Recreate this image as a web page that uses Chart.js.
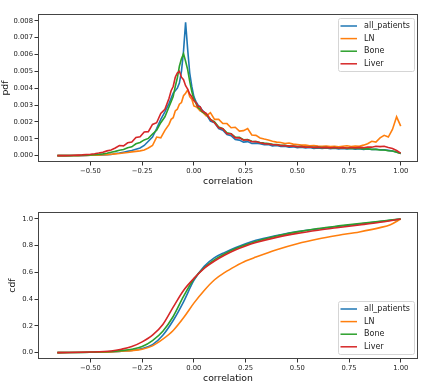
<!DOCTYPE html>
<html>
<head>
<meta charset="utf-8">
<script src="https://cdn.jsdelivr.net/npm/chart.js@4/dist/chart.umd.min.js"></script>
<style>
  body { margin: 0; background: #fff; }
  .box { position: absolute; left: 0; }
</style>
</head>
<body>
<div class="box" style="top:0"><canvas id="pdfChart" width="423" height="200"></canvas></div>
<div class="box" style="top:200px"><canvas id="cdfChart" width="423" height="184"></canvas></div>
<script>
// series names and colours (matplotlib default cycle)
const seriesNames = ['all_patients', 'LN', 'Bone', 'Liver'];
const seriesColors = ['#1f77b4', '#ff7f0e', '#2ca02c', '#d62728'];

// x ticks shared by both plots
const xTicks = [-0.5, -0.25, 0, 0.25, 0.5, 0.75, 1.0];
const xTickLabels = ['\u22120.50', '\u22120.25', '0.00', '0.25', '0.50', '0.75', '1.00'];

const pdfTicks = [0, 0.001, 0.002, 0.003, 0.004, 0.005, 0.006, 0.007, 0.008];
const pdfTickLabels = ['0.000', '0.001', '0.002', '0.003', '0.004', '0.005', '0.006', '0.007', '0.008'];
const cdfTicks = [0, 0.2, 0.4, 0.6, 0.8, 1.0];
const cdfTickLabels = ['0.0', '0.2', '0.4', '0.6', '0.8', '1.0'];

// pdf (top plot)
const pdfX = [-0.66, -0.64, -0.62, -0.60, -0.58, -0.56, -0.54, -0.52, -0.50, -0.48, -0.46, -0.44, -0.42, -0.40,
    -0.38, -0.36, -0.34, -0.32, -0.30, -0.28, -0.26, -0.24, -0.22, -0.20, -0.18, -0.16, -0.14,
    -0.12, -0.11, -0.10, -0.09, -0.08, -0.07, -0.06, -0.05, -0.04, -0.03, -0.02, -0.01, 0.00, 0.01, 0.02, 0.03, 0.04,
    0.06, 0.08, 0.10, 0.12, 0.14, 0.16, 0.18, 0.20, 0.22, 0.24, 0.26, 0.28, 0.30,
    0.32, 0.34, 0.36, 0.38, 0.40, 0.42, 0.44, 0.46, 0.48, 0.50, 0.52, 0.54, 0.56, 0.58, 0.60,
    0.62, 0.64, 0.66, 0.68, 0.70, 0.72, 0.74, 0.76, 0.78, 0.80, 0.82, 0.84, 0.86, 0.88, 0.90,
    0.92, 0.94, 0.96, 0.98, 1.00];

const pdfAll = [0, 0, 0, 0, 0, 0, 0, 0.00001, 0.00002, 0.00002, 0.00003, 0.00004, 0.00005, 0.00007,
    0.00012, 0.00015, 0.00020, 0.00025, 0.00030, 0.00038, 0.00045, 0.00060, 0.00085, 0.00110, 0.00160, 0.00215, 0.00260,
    0.00310, 0.00340, 0.00370, 0.00385, 0.00400, 0.00430, 0.00500, 0.00620, 0.00790, 0.00630, 0.00490, 0.00410, 0.00350, 0.00320, 0.00300, 0.00290, 0.00270,
    0.00245, 0.00205, 0.00195, 0.00160, 0.00150, 0.00125, 0.00118, 0.00095, 0.00092, 0.00080, 0.00083, 0.00072, 0.00074,
    0.00070, 0.00064, 0.00066, 0.00058, 0.00060, 0.00054, 0.00056, 0.00050, 0.00052, 0.00047, 0.00050, 0.00045, 0.00048, 0.00043, 0.00046,
    0.00042, 0.00045, 0.00041, 0.00044, 0.00040, 0.00043, 0.00039, 0.00042, 0.00038, 0.00041, 0.00037, 0.00040, 0.00036, 0.00038, 0.00035,
    0.00034, 0.00031, 0.00027, 0.00021, 0.00012];

const pdfLN = [0, 0, 0, 0, 0, 0, 0.00001, 0.00001, 0.00002, 0.00003, 0.00003, 0.00005, 0.00006, 0.00008,
    0.00010, 0.00012, 0.00015, 0.00018, 0.00022, 0.00025, 0.00028, 0.00033, 0.00045, 0.00060, 0.00110, 0.00105, 0.00150,
    0.00185, 0.00215, 0.00225, 0.00265, 0.00275, 0.00305, 0.00315, 0.00355, 0.00370, 0.00390, 0.00350, 0.00335, 0.00295, 0.00290, 0.00280, 0.00265, 0.00260,
    0.00235, 0.00255, 0.00215, 0.00215, 0.00190, 0.00190, 0.00165, 0.00168, 0.00145, 0.00148, 0.00160, 0.00122, 0.00120,
    0.00105, 0.00098, 0.00092, 0.00085, 0.00080, 0.00078, 0.00072, 0.00075, 0.00068, 0.00066, 0.00062, 0.00063, 0.00058, 0.00060, 0.00056,
    0.00055, 0.00057, 0.00053, 0.00055, 0.00052, 0.00055, 0.00058, 0.00054, 0.00056, 0.00055, 0.00062, 0.00070, 0.00085, 0.00080, 0.00105,
    0.00120, 0.00110, 0.00155, 0.00230, 0.00175];

const pdfBone = [0, 0, 0, 0, 0.00001, 0.00001, 0.00002, 0.00003, 0.00004, 0.00005, 0.00007, 0.00010, 0.00014, 0.00020,
    0.00025, 0.00032, 0.00036, 0.00047, 0.00052, 0.00070, 0.00078, 0.00093, 0.00102, 0.00128, 0.00150, 0.00195, 0.00230,
    0.00290, 0.00320, 0.00350, 0.00410, 0.00460, 0.00530, 0.00575, 0.00605, 0.00560, 0.00510, 0.00440, 0.00380, 0.00335, 0.00310, 0.00285, 0.00275, 0.00260,
    0.00245, 0.00215, 0.00200, 0.00170, 0.00160, 0.00135, 0.00130, 0.00110, 0.00108, 0.00094, 0.00095, 0.00085, 0.00084,
    0.00078, 0.00074, 0.00071, 0.00067, 0.00066, 0.00061, 0.00061, 0.00057, 0.00057, 0.00054, 0.00054, 0.00051, 0.00051, 0.00049, 0.00049,
    0.00047, 0.00048, 0.00045, 0.00047, 0.00044, 0.00046, 0.00043, 0.00044, 0.00042, 0.00043, 0.00040, 0.00041, 0.00037, 0.00037, 0.00033,
    0.00033, 0.00029, 0.00027, 0.00020, 0.00012];

const pdfLiver = [0, 0, 0, 0.00001, 0.00002, 0.00003, 0.00004, 0.00006, 0.00008, 0.00011, 0.00015, 0.00020, 0.00028, 0.00033,
    0.00045, 0.00060, 0.00058, 0.00076, 0.00080, 0.00108, 0.00112, 0.00140, 0.00142, 0.00185, 0.00195, 0.00250, 0.00275,
    0.00340, 0.00385, 0.00410, 0.00465, 0.00490, 0.00500, 0.00465, 0.00450, 0.00415, 0.00395, 0.00365, 0.00350, 0.00325, 0.00315, 0.00290, 0.00290, 0.00265,
    0.00250, 0.00215, 0.00195, 0.00165, 0.00160, 0.00130, 0.00130, 0.00105, 0.00106, 0.00092, 0.00094, 0.00082, 0.00083,
    0.00076, 0.00071, 0.00069, 0.00065, 0.00064, 0.00059, 0.00059, 0.00056, 0.00056, 0.00053, 0.00053, 0.00050, 0.00051, 0.00049, 0.00050,
    0.00047, 0.00049, 0.00046, 0.00048, 0.00045, 0.00047, 0.00045, 0.00048, 0.00046, 0.00049, 0.00047, 0.00051, 0.00050, 0.00055, 0.00053,
    0.00055, 0.00048, 0.00042, 0.00030, 0.00015];

// cdf (bottom plot)
const cdfX = [-0.66, -0.5, -0.4, -0.35, -0.3, -0.25, -0.2, -0.15, -0.1, -0.05, 0, 0.05, 0.1, 0.15, 0.2, 0.25, 0.3, 0.4, 0.5, 0.6, 0.7, 0.8, 0.9, 0.95, 1.0];
const cdfAll = [0, 0.002, 0.005, 0.01, 0.016, 0.03, 0.06, 0.13, 0.24, 0.38, 0.54, 0.645, 0.71, 0.75, 0.785, 0.815, 0.84, 0.875, 0.905, 0.925, 0.945, 0.962, 0.98, 0.99, 1.0];
const cdfLN = [0, 0.002, 0.005, 0.01, 0.015, 0.025, 0.05, 0.10, 0.165, 0.26, 0.37, 0.465, 0.545, 0.60, 0.645, 0.685, 0.715, 0.77, 0.815, 0.85, 0.878, 0.903, 0.935, 0.957, 1.0];
const cdfBone = [0, 0.003, 0.008, 0.015, 0.025, 0.045, 0.09, 0.16, 0.27, 0.42, 0.55, 0.635, 0.695, 0.74, 0.777, 0.806, 0.832, 0.872, 0.903, 0.928, 0.948, 0.966, 0.983, 0.991, 1.0];
const cdfLiver = [0, 0.004, 0.012, 0.025, 0.045, 0.08, 0.13, 0.21, 0.34, 0.465, 0.555, 0.63, 0.685, 0.73, 0.768, 0.798, 0.823, 0.862, 0.892, 0.916, 0.936, 0.955, 0.975, 0.987, 1.0];

const FONT = 'DejaVu Sans';

function makeDatasets(xs, seriesList, smooth) {
    return seriesList.map(function (ys, i) {
        return {
            label: seriesNames[i],
            data: xs.map(function (x, j) { return { x: x, y: ys[j] }; }),
            borderColor: seriesColors[i],
            borderWidth: 1.6,
            pointRadius: 0,
            fill: false,
            cubicInterpolationMode: smooth ? 'monotone' : 'default',
            tension: 0,
            order: seriesList.length - i  // last series drawn on top, like matplotlib
        };
    });
}

// frame around plot area + matplotlib style legend box
const framePlugin = {
    id: 'frame',
    afterDraw(chart, args, opts) {
        const ctx = chart.ctx;
        const a = chart.chartArea;
        ctx.save();
        ctx.strokeStyle = '#444';
        ctx.lineWidth = 1;
        ctx.strokeRect(Math.round(a.left) + 0.5, Math.round(a.top) + 0.5,
            Math.round(a.right - a.left) - 1, Math.round(a.bottom - a.top) - 1);

        // legend
        const w = 76, h = 53;
        const bx = a.right - 4 - w;
        const by = opts.legendTop ? a.top + 4 : a.bottom - 5 - h;
        ctx.fillStyle = 'rgba(255,255,255,0.8)';
        ctx.strokeStyle = '#d5d5d5';
        ctx.beginPath();
        ctx.roundRect(bx + 0.5, by + 0.5, w, h, 2);
        ctx.fill();
        ctx.stroke();
        ctx.font = '8px "' + FONT + '"';
        ctx.textBaseline = 'middle';
        chart.data.datasets.forEach(function (ds, i) {
            const y = by + 8 + i * 12.6;
            ctx.strokeStyle = ds.borderColor;
            ctx.lineWidth = 1.5;
            ctx.beginPath();
            ctx.moveTo(bx + 2.5, y);
            ctx.lineTo(bx + 19, y);
            ctx.stroke();
            ctx.fillStyle = '#222';
            ctx.fillText(ds.label, bx + 26, y);
        });
        ctx.restore();
    }
};

function makeChart(canvasId, xs, seriesList, yMin, yMax, yTicks, yTickLabels, yTitle, yTitlePad, pad, legendTop, smooth) {
    const ctx = document.getElementById(canvasId).getContext('2d');
    return new Chart(ctx, {
        type: 'line',
        data: { datasets: makeDatasets(xs, seriesList, smooth) },
        options: {
            responsive: false,
            animation: false,
            devicePixelRatio: 1,
            layout: { padding: pad },
            plugins: {
                legend: { display: false },
                tooltip: { enabled: false },
                frame: { legendTop: legendTop }
            },
            scales: {
                x: {
                    type: 'linear',
                    min: -0.7535,
                    max: 1.0835,
                    afterFit: function (scale) { scale.height = 25; },
                    afterBuildTicks: function (scale) {
                        scale.ticks = xTicks.map(function (v) { return { value: v }; });
                    },
                    grid: { drawOnChartArea: false, drawTicks: true, tickLength: 3.5, color: '#333' },
                    border: { display: false },
                    ticks: {
                        autoSkip: false,
                        maxRotation: 0,
                        padding: 1.5,
                        color: '#222',
                        font: { family: FONT, size: 6.8 },
                        callback: function (value) {
                            const k = xTicks.indexOf(value);
                            return k >= 0 ? xTickLabels[k] : '';
                        }
                    },
                    title: {
                        display: true,
                        text: 'correlation',
                        color: '#111',
                        font: { family: FONT, size: 9.3 },
                        padding: { top: 0, bottom: 0 }
                    }
                },
                y: {
                    type: 'linear',
                    min: yMin,
                    max: yMax,
                    afterFit: function (scale) { scale.width = 38; },
                    afterBuildTicks: function (scale) {
                        scale.ticks = yTicks.map(function (v) { return { value: v }; });
                    },
                    grid: { drawOnChartArea: false, drawTicks: true, tickLength: 3.5, color: '#333' },
                    border: { display: false },
                    ticks: {
                        autoSkip: false,
                        padding: 1.5,
                        color: '#222',
                        font: { family: FONT, size: 6.8 },
                        callback: function (value) {
                            const k = yTicks.indexOf(value);
                            return k >= 0 ? yTickLabels[k] : '';
                        }
                    },
                    title: {
                        display: true,
                        text: yTitle,
                        color: '#111',
                        font: { family: FONT, size: 9.3 },
                        padding: { top: yTitlePad, bottom: 0 }
                    }
                }
            }
        },
        plugins: [framePlugin]
    });
}

makeChart('pdfChart', pdfX, [pdfAll, pdfLN, pdfBone, pdfLiver],
    -0.00038, 0.0084, pdfTicks, pdfTickLabels, 'pdf', 0.5,
    { top: 14, right: 5, bottom: 13, left: 0 }, true, false);

makeChart('cdfChart', cdfX, [cdfAll, cdfLN, cdfBone, cdfLiver],
    -0.048, 1.052, cdfTicks, cdfTickLabels, 'cdf', 7.5,
    { top: 12, right: 5, bottom: 0, left: 0 }, false, true);
</script>
</body>
</html>
